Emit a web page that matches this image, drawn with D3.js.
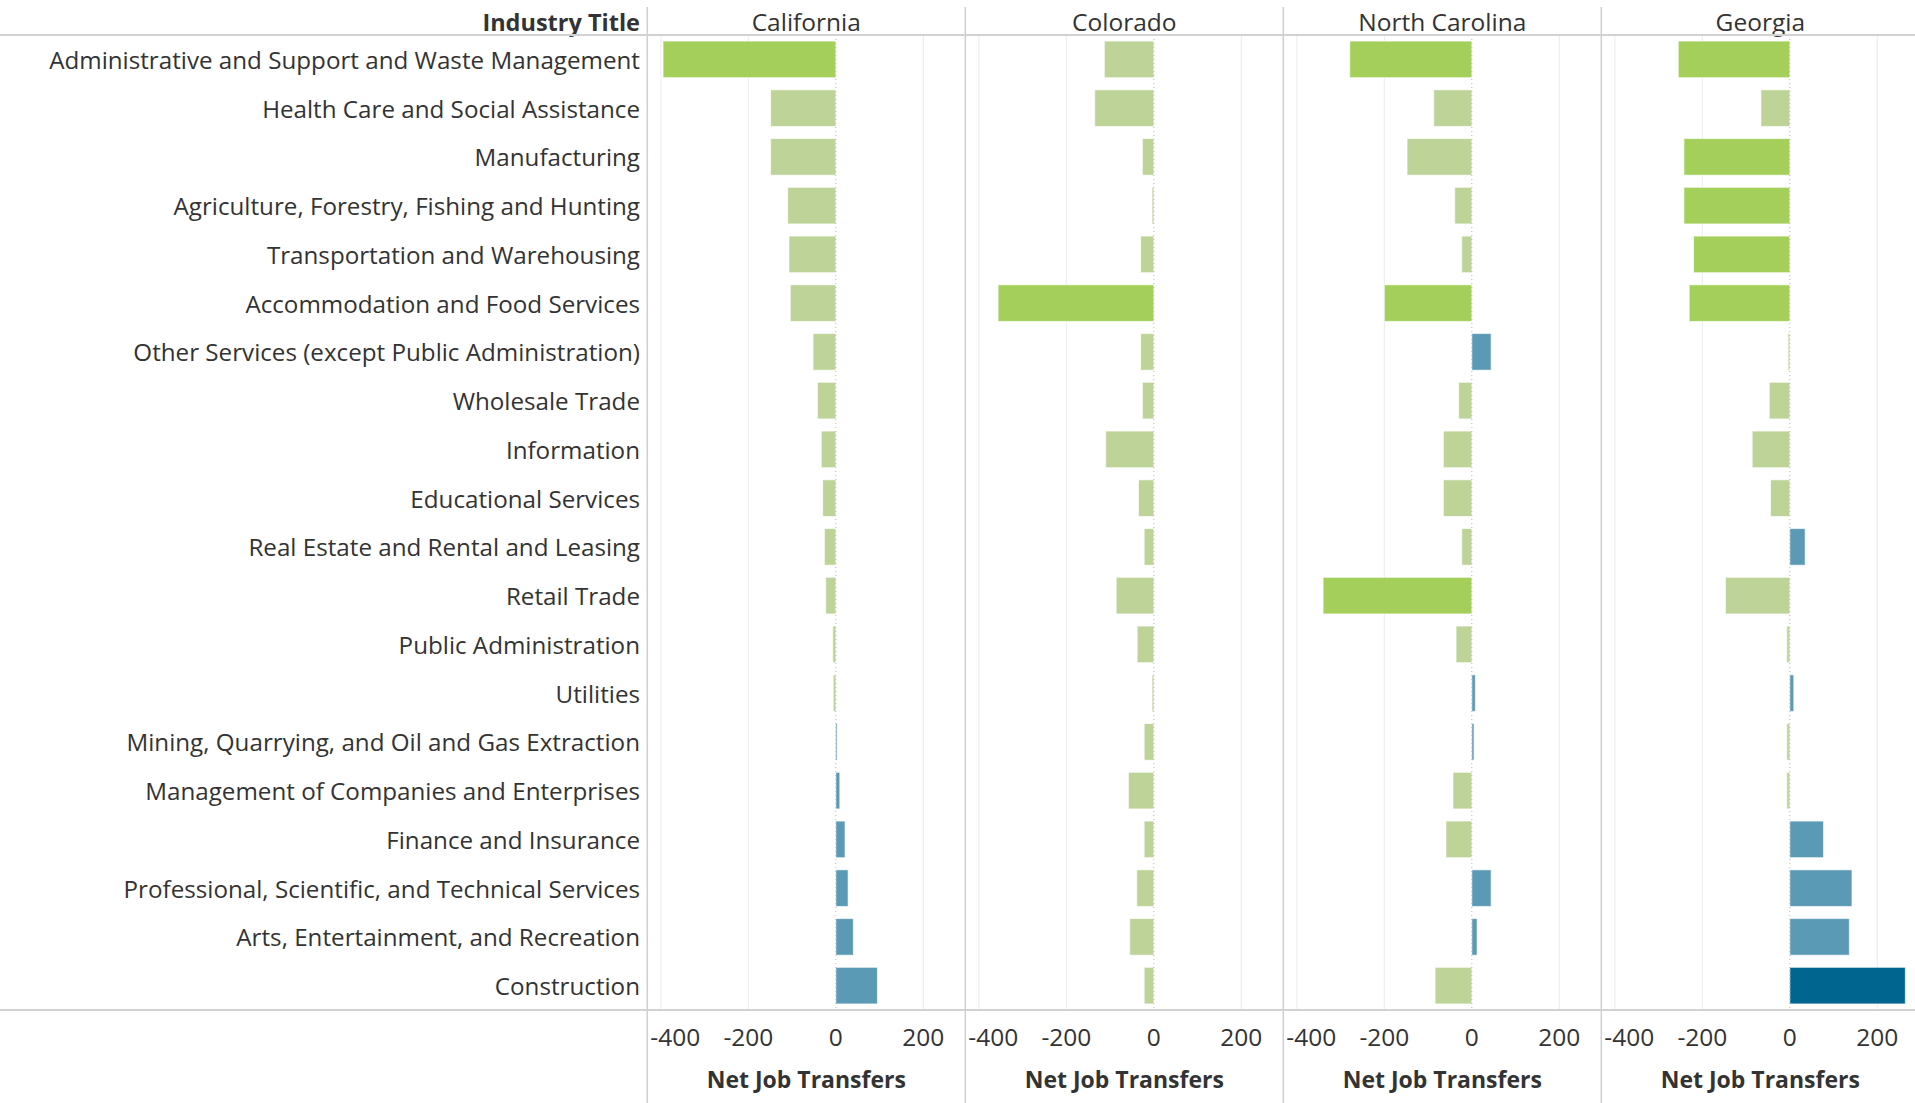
<!DOCTYPE html>
<html>
<head>
<meta charset="utf-8">
<script src="https://cdn.jsdelivr.net/npm/d3@7"></script>
<style>
  body { margin: 0; background: #fff; }
  text { font-family: "Open Sans", sans-serif; fill: #333; }
</style>
</head>
<body>
<div id="chart"></div>
<script>
var industries = [
  'Administrative and Support and Waste Management',
  'Health Care and Social Assistance',
  'Manufacturing',
  'Agriculture, Forestry, Fishing and Hunting',
  'Transportation and Warehousing',
  'Accommodation and Food Services',
  'Other Services (except Public Administration)',
  'Wholesale Trade',
  'Information',
  'Educational Services',
  'Real Estate and Rental and Leasing',
  'Retail Trade',
  'Public Administration',
  'Utilities',
  'Mining, Quarrying, and Oil and Gas Extraction',
  'Management of Companies and Enterprises',
  'Finance and Insurance',
  'Professional, Scientific, and Technical Services',
  'Arts, Entertainment, and Recreation',
  'Construction'
];

var states = ['California', 'Colorado', 'North Carolina', 'Georgia'];

var california = [-395, -149, -149, -110, -107, -104, -52, -42, -33, -30, -26, -23, -7, -6, 3, 9, 21, 28, 40, 95];
var colorado = [-113, -135, -26, -4, -30, -356, -30, -26, -110, -35, -22, -86, -38, -4, -22, -58, -22, -39, -55, -22];
var northCarolina = [-279, -87, -148, -39, -23, -200, 44, -30, -65, -65, -23, -340, -36, 8, 5, -43, -59, 44, 12, -84];
var georgia = [-255, -66, -242, -242, -220, -230, -4, -47, -86, -44, 35, -147, -7, 9, -7, -7, 77, 142, 136, 264];

var values = [california, colorado, northCarolina, georgia];
var tickValues = [-400, -200, 0, 200];

(function(d3) {

var width = 1915;
var height = 1103;
var labelRight = 640;
var colLeft = 647.3;
var panelWidth = 318;
var plotTop = 35;
var plotBottom = 1010;

var svg = d3.select('#chart')
  .append('svg')
  .attr('width', width)
  .attr('height', height);

var y = d3.scaleBand()
  .domain(industries)
  .range([plotTop, plotBottom])
  .paddingInner(0.25)
  .paddingOuter(0.125);

var x = d3.scaleLinear()
  .domain([-431, 296])
  .range([0, panelWidth]);

var color = d3.scaleThreshold()
  .domain([-199, 0, 200])
  .range(['#a3cf5a', '#bdd398', '#5b9ab5', '#00668f']);

// row labels
svg.append('text')
  .attr('x', labelRight)
  .attr('y', 31)
  .attr('text-anchor', 'end')
  .style('font-size', '23.5px')
  .style('font-weight', 'bold')
  .text('Industry Title');

svg.selectAll('.rowlabel')
  .data(industries)
  .enter()
  .append('text')
  .attr('class', 'rowlabel')
  .attr('x', labelRight)
  .attr('y', function(d) { return y(d) + y.bandwidth() / 2 + 1; })
  .attr('dy', '0.35em')
  .attr('text-anchor', 'end')
  .style('font-size', '24.2px')
  .text(function(d) { return d; });

// panels
states.forEach(function(state, i) {
  var g = svg.append('g')
    .attr('transform', 'translate(' + (colLeft + i * panelWidth) + ',0)');

  g.selectAll('.grid')
    .data(tickValues.filter(function(t) { return t !== 0; }))
    .enter()
    .append('line')
    .attr('x1', function(d) { return x(d); })
    .attr('x2', function(d) { return x(d); })
    .attr('y1', plotTop)
    .attr('y2', plotBottom)
    .style('stroke', '#ececec')
    .style('stroke-width', 1);

  g.selectAll('.bar')
    .data(values[i])
    .enter()
    .append('rect')
    .attr('x', function(d) { return x(Math.min(0, d)); })
    .attr('y', function(d, j) { return y(industries[j]); })
    .attr('width', function(d) { return Math.abs(x(d) - x(0)); })
    .attr('height', y.bandwidth())
    .style('fill', function(d) { return color(d); })
    .style('stroke', 'rgba(255,255,255,0.6)')
    .style('stroke-width', 1);

  g.append('line')
    .attr('x1', x(0))
    .attr('x2', x(0))
    .attr('y1', plotTop)
    .attr('y2', plotBottom)
    .style('stroke', '#b8b8b8')
    .style('stroke-width', 1)
    .style('stroke-dasharray', '1,3');

  g.append('text')
    .attr('x', panelWidth / 2)
    .attr('y', 31)
    .attr('text-anchor', 'middle')
    .style('font-size', '24.5px')
    .text(state);

  var ticks = g.selectAll('.tick')
    .data(tickValues)
    .enter()
    .append('text')
    .attr('x', function(d) { return x(d); })
    .attr('y', 1046)
    .attr('text-anchor', 'middle')
    .style('font-size', '24.5px')
    .text(function(d) { return d; });

  // keep the first tick inside the panel
  ticks.each(function() {
    var b = this.getBBox();
    if (b.x < 3) d3.select(this).attr('x', +d3.select(this).attr('x') + (3 - b.x));
  });

  g.append('text')
    .attr('x', panelWidth / 2)
    .attr('y', 1088)
    .attr('text-anchor', 'middle')
    .style('font-size', '23px')
    .style('font-weight', 'bold')
    .text('Net Job Transfers');

  g.append('line')
    .attr('x1', panelWidth)
    .attr('x2', panelWidth)
    .attr('y1', 7)
    .attr('y2', height)
    .style('stroke', '#cfcfcf')
    .style('stroke-width', 1.5);
});

// frame lines
svg.append('line')
  .attr('x1', colLeft).attr('x2', colLeft)
  .attr('y1', 7).attr('y2', height)
  .style('stroke', '#cfcfcf')
  .style('stroke-width', 1.5);

[plotTop, plotBottom].forEach(function(yy) {
  svg.append('line')
    .attr('x1', 0).attr('x2', width)
    .attr('y1', yy).attr('y2', yy)
    .style('stroke', '#d2d2d2')
    .style('stroke-width', 2);
});

})(window.d3);
</script>
</body>
</html>
